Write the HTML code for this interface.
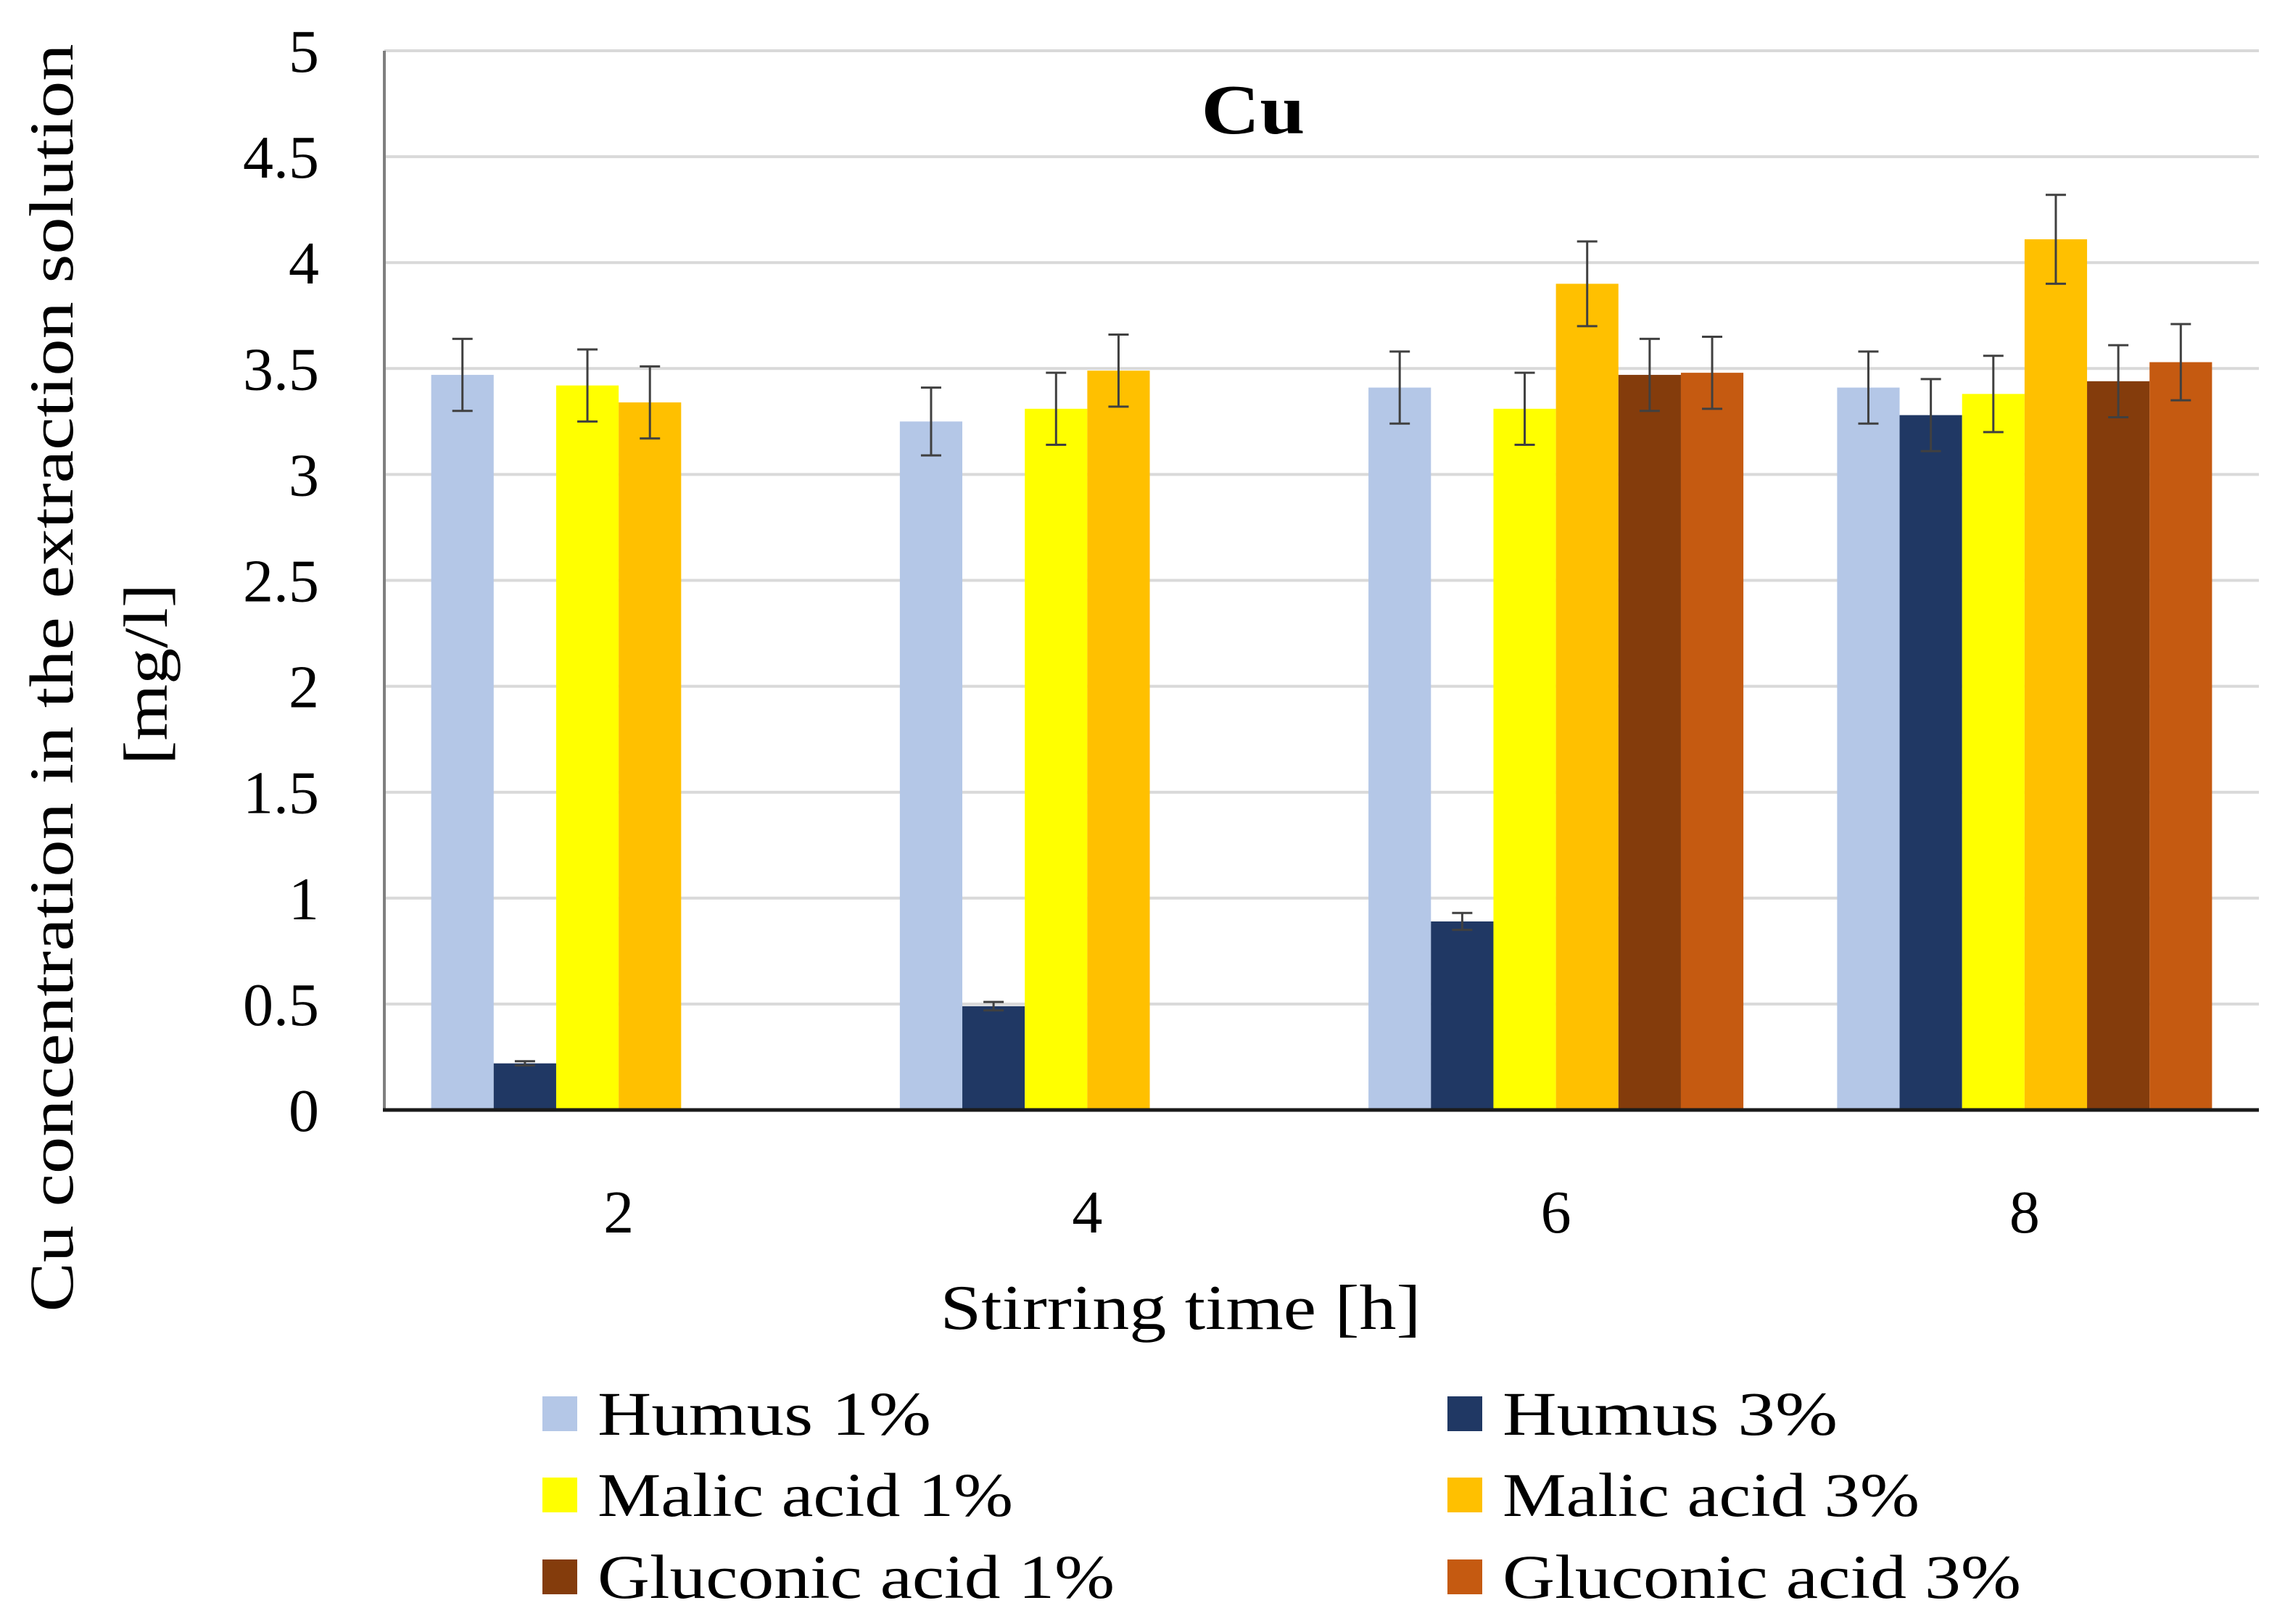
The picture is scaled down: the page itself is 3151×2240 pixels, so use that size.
<!DOCTYPE html>
<html><head><meta charset="utf-8"><style>
html,body{margin:0;padding:0;background:#fff;}
svg{display:block;font-family:"Liberation Serif",serif;}
</style></head><body>
<svg id="chart" width="3151" height="2240" viewBox="0 0 3151 2240" xmlns="http://www.w3.org/2000/svg">
<rect x="0" y="0" width="3151" height="2240" fill="#fff"/>
<g id="grid"></g>
<g id="bars"></g>
<g id="errs"></g>
<g id="axes"></g>
<text x="1728" y="184" text-anchor="middle" font-size="98" font-weight="bold" fill="#000" textLength="143" lengthAdjust="spacingAndGlyphs">Cu</text>
<text x="1628" y="1833" text-anchor="middle" font-size="88" fill="#000" textLength="663" lengthAdjust="spacingAndGlyphs">Stirring time [h]</text>
<g font-size="86" fill="#000" text-anchor="middle">
<text x="0" y="0" transform="translate(100,935) rotate(-90)" textLength="1749" lengthAdjust="spacingAndGlyphs">Cu concentration in the extraction solution</text>
<text x="0" y="0" transform="translate(230,930) rotate(-90)" textLength="250" lengthAdjust="spacingAndGlyphs">[mg/l]</text>
</g>
<g id="legend"></g>
</svg>
<script>
const categories=["2","4","6","8"];
const seriesNames=["Humus 1%","Humus 3%","Malic acid 1%","Malic acid 3%","Gluconic acid 1%","Gluconic acid 3%"];
const humus1=[3.47,3.25,3.41,3.41];
const humus3=[0.22,0.49,0.89,3.28];
const malic1=[3.42,3.31,3.31,3.38];
const malic3=[3.34,3.49,3.90,4.11];
const gluconic1=[null,null,3.47,3.44];
const gluconic3=[null,null,3.48,3.53];
const humus1Err=[0.17,0.16,0.17,0.17];
const humus3Err=[0.01,0.02,0.04,0.17];
const malic1Err=[0.17,0.17,0.17,0.18];
const malic3Err=[0.17,0.17,0.20,0.21];
const gluconic1Err=[null,null,0.17,0.17];
const gluconic3Err=[null,null,0.17,0.18];
const yTicks=["0","0.5","1","1.5","2","2.5","3","3.5","4","4.5","5"];
const colors=["#b4c7e7","#203864","#ffff00","#ffc000","#843c0c","#c55a11"];
const legendLens=[460,462,573,575,713,715];
const series=[humus1,humus3,malic1,malic3,gluconic1,gluconic3];
const errs=[humus1Err,humus3Err,malic1Err,malic3Err,gluconic1Err,gluconic3Err];
const NS="http://www.w3.org/2000/svg";
const X0=530,X1=3115,Y0=1531,Y5=70,YMAX=5;
const y=v=>Y0-(v/YMAX)*(Y0-Y5);
const catW=(X1-X0)/categories.length;
const xc=i=>X0+catW*(i+0.5);
const barW=catW*0.8/6;
function mk(tag,attrs,parent){const e=document.createElementNS(NS,tag);for(const k in attrs)e.setAttribute(k,attrs[k]);parent.appendChild(e);return e;}
const grid=document.getElementById('grid');
yTicks.forEach((t)=>{
  const v=parseFloat(t);const yy=y(v);
  if(v>0){const l=mk('line',{x1:X0,x2:X1,y1:yy,y2:yy,stroke:'#d9d9d9','stroke-width':4},grid);
  
  }
  const tx=mk('text',{x:440,y:yy+29,'text-anchor':'end','font-size':84,fill:'#000'},grid);
  tx.textContent=t;
  
  
});
const bars=document.getElementById('bars'),eg=document.getElementById('errs');
categories.forEach((c,i)=>{
  const start=xc(i)-3*barW;
  series.forEach((s,j)=>{
    const v=s[i];if(v==null)return;
    const bx=start+j*barW;
    const r=mk('rect',{x:bx,y:y(v),width:barW,height:Y0-y(v),fill:colors[j]},bars);
    
    
    const e=errs[j][i];const cx=bx+barW/2;
    const g=mk('g',{stroke:'#404040','stroke-width':3},eg);
    
    
    mk('line',{x1:cx,x2:cx,y1:y(v+e),y2:y(v-e)},g);
    mk('line',{x1:cx-14,x2:cx+14,y1:y(v+e),y2:y(v+e)},g);
    mk('line',{x1:cx-14,x2:cx+14,y1:y(v-e),y2:y(v-e)},g);
  });
  const t=mk('text',{x:xc(i),y:1700,'text-anchor':'middle','font-size':84,fill:'#000'},bars);
  t.textContent=c;
  
  
});
const ax=document.getElementById('axes');
const ya=mk('line',{x1:X0,x2:X0,y1:Y5,y2:Y0,stroke:'#7f7f7f','stroke-width':4},ax);


const xa=mk('line',{x1:X0-2,x2:X1,y1:Y0,y2:Y0,stroke:'#1a1a1a','stroke-width':5},ax);


const lg=document.getElementById('legend');
const colX=[748,1996],rowY=[1950,2062,2175];
seriesNames.forEach((n,k)=>{
  const cx=colX[k%2],ry=rowY[Math.floor(k/2)];
  const g=mk('g',{},lg);
  
  
  mk('rect',{x:cx,y:ry-24,width:48,height:48,fill:colors[k]},g);
  const t=mk('text',{x:cx+76,y:ry+29,'font-size':86,fill:'#000',textLength:legendLens[k],lengthAdjust:'spacingAndGlyphs'},g);
  t.textContent=n;
});
</script>
</body></html>
